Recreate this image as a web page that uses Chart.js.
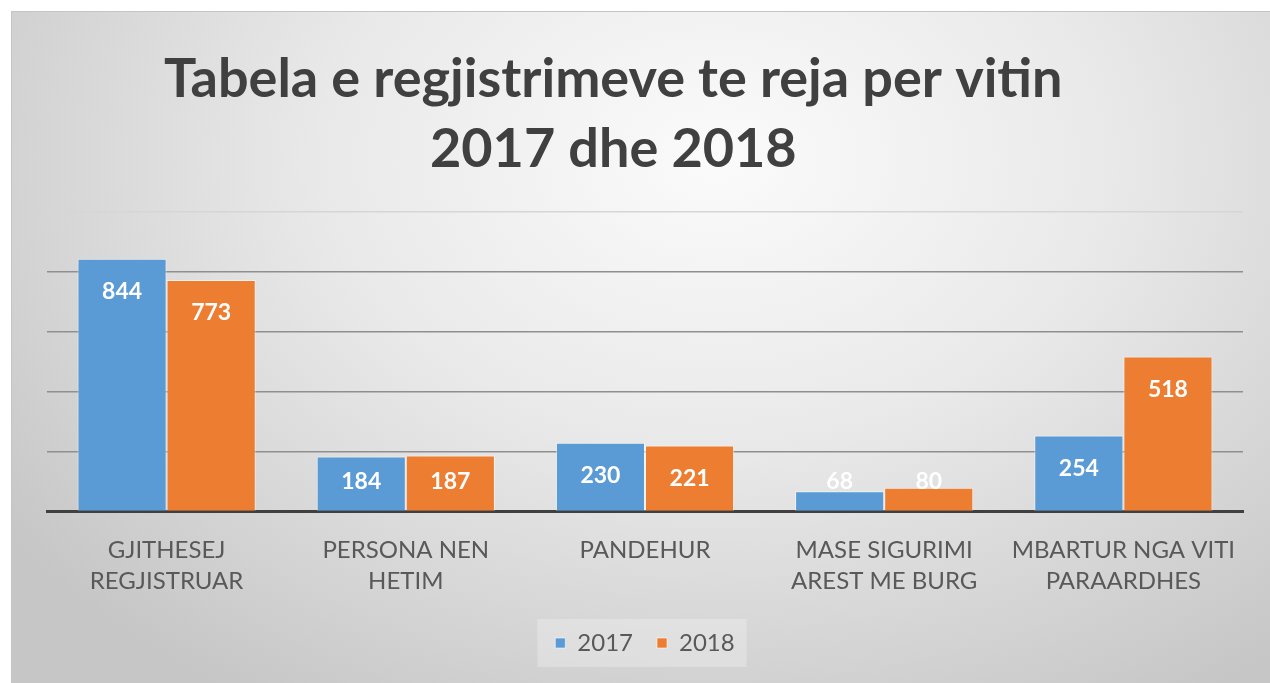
<!DOCTYPE html>
<html>
<head>
<meta charset="utf-8">
<script src="https://cdn.jsdelivr.net/npm/chart.js@4.4.1/dist/chart.umd.min.js"></script>
<style>
  html, body { margin: 0; padding: 0; background: #fff; }
  .chart-wrap {
    position: absolute; left: 11px; top: 11px; width: 1259px; height: 672px;
    border-top: 1px solid #c4c4c4; border-left: 1px solid #c4c4c4; box-sizing: border-box;
    background: radial-gradient(ellipse 70% 95% at 56% 22%, #fbfbfb 0%, #e9e9e9 45%, #d3d3d3 80%, #c6c6c6 100%);
  }
  canvas { display: block; }
</style>
</head>
<body>
<div class="chart-wrap"><canvas id="myChart" width="1258" height="671"></canvas></div>
<script>
const categories = [
  ['GJITHESEJ', 'REGJISTRUAR'],
  ['PERSONA NEN', 'HETIM'],
  ['PANDEHUR'],
  ['MASE SIGURIMI', 'AREST ME BURG'],
  ['MBARTUR NGA VITI', 'PARAARDHES']
];
const values2017 = [844, 184, 230, 68, 254];
const values2018 = [773, 187, 221, 80, 518];
const seriesNames = ['2017', '2018'];
const titleLines = ['Tabela e regjistrimeve te reja per vitin', '2017 dhe 2018'];
const yMax = 1000;
const yStep = 200;

const FONT = 'Lato, "Open Sans", sans-serif';

// title drawn by hand so it can sit a little left of centre like the original
const titlePlugin = {
  id: 'titleLines',
  afterDraw(chart) {
    const ctx = chart.ctx;
    ctx.save();
    ctx.fillStyle = '#404040';
    ctx.font = 'bold 54px ' + FONT;
    ctx.textAlign = 'center';
    ctx.textBaseline = 'middle';
    const cx = chart.width * 0.478;
    titleLines.forEach((line, i) => ctx.fillText(line, cx, 68 + i * 70));
    ctx.restore();
  }
};

// value labels inside the top of every bar
const barLabels = {
  id: 'barLabels',
  afterDatasetsDraw(chart) {
    const ctx = chart.ctx;
    const base = chart.scales.y.getPixelForValue(0);
    ctx.save();
    ctx.fillStyle = '#ffffff';
    ctx.font = 'bold 23px ' + FONT;
    ctx.textAlign = 'center';
    ctx.textBaseline = 'middle';
    chart.data.datasets.forEach((ds, di) => {
      chart.getDatasetMeta(di).data.forEach((bar, i) => {
        const y = Math.min(bar.y + 33, base - 30);
        ctx.fillText(ds.data[i], bar.x, y);
      });
    });
    ctx.restore();
  }
};

// faint box behind the legend
const legendBox = {
  id: 'legendBox',
  beforeDraw(chart) {
    const lg = chart.legend;
    if (!lg || !lg.legendHitBoxes.length) return;
    const hb = lg.legendHitBoxes;
    const x0 = hb[0].left - 18, x1 = hb[hb.length - 1].left + hb[hb.length - 1].width + 12;
    const y0 = hb[0].top - 12, h = hb[0].height + 24;
    chart.ctx.save();
    chart.ctx.fillStyle = 'rgba(255,255,255,0.25)';
    chart.ctx.fillRect(x0, y0, x1 - x0, h);
    chart.ctx.restore();
  }
};

new Chart(document.getElementById('myChart'), {
  type: 'bar',
  data: {
    labels: categories,
    datasets: [
      { label: seriesNames[0], data: values2017, backgroundColor: '#5B9BD5' },
      { label: seriesNames[1], data: values2018, backgroundColor: '#ED7D31' }
    ]
  },
  options: {
    responsive: false,
    animation: false,
    devicePixelRatio: 1,
    layout: { padding: { top: 200, left: 35, right: 27, bottom: 18 } },
    datasets: {
      bar: {
        categoryPercentage: 0.745,
        barPercentage: 1.0,
        borderColor: 'rgba(255,255,255,0.55)',
        borderWidth: 1
      }
    },
    scales: {
      x: {
        grid: { display: false, drawTicks: false },
        border: { display: true, color: '#404040', width: 3 },
        ticks: {
          color: '#595959',
          font: { family: FONT, size: 24, lineHeight: 1.3 },
          padding: 23,
          maxRotation: 0,
          autoSkip: false
        },
        afterFit: s => { s.height -= 13; }
      },
      y: {
        min: 0,
        max: yMax,
        ticks: { display: false, stepSize: yStep },
        border: { display: false },
        grid: {
          drawTicks: false,
          lineWidth: 1.5,
          color: c => c.tick && c.tick.value === yMax ? '#d6d6d6' : '#8f8f8f'
        }
      }
    },
    plugins: {
      title: { display: false },
      tooltip: { enabled: false },
      legend: {
        position: 'bottom',
        labels: {
          color: '#595959',
          font: { family: FONT, size: 24 },
          boxWidth: 10,
          boxHeight: 10,
          padding: 24
        }
      }
    }
  },
  plugins: [titlePlugin, barLabels, legendBox]
});
</script>
</body>
</html>
